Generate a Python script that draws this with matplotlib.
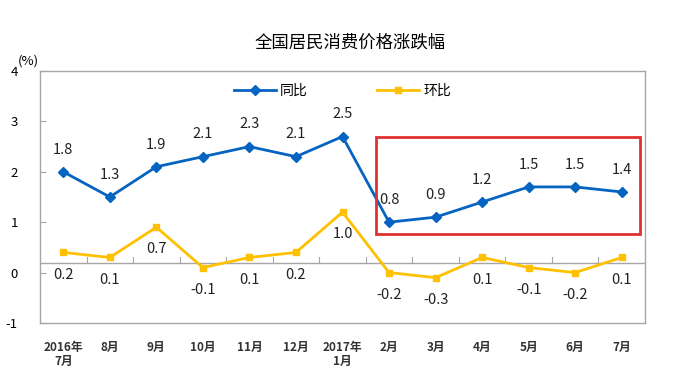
import matplotlib
matplotlib.use('Agg')
import matplotlib.pyplot as plt
from matplotlib.patches import Rectangle

plt.rcParams['font.family'] = ['Noto Sans CJK SC', 'DejaVu Sans']

# 数据
months = ['2016年\n7月', '8月', '9月', '10月', '11月', '12月', '2017年\n1月',
          '2月', '3月', '4月', '5月', '6月', '7月']
yoy = [1.8, 1.3, 1.9, 2.1, 2.3, 2.1, 2.5, 0.8, 0.9, 1.2, 1.5, 1.5, 1.4]
mom = [0.2, 0.1, 0.7, -0.1, 0.1, 0.2, 1.0, -0.2, -0.3, 0.1, -0.1, -0.2, 0.1]
# 原图纵轴刻度相对数据偏移了0.2
ytick_labels = ['-1', '0', '1', '2', '3', '4']
ytick_pos = [-1.2, -0.2, 0.8, 1.8, 2.8, 3.8]

blue = '#0563C1'
yellow = '#FFC000'
grey = '#A6A6A6'

fig = plt.figure(figsize=(6.75, 3.88), dpi=100)
ax = fig.add_axes([40/675, 1-323/388, 605/675, 252/388])

x = list(range(len(months)))
ax.plot(x, yoy, color=blue, lw=2, marker='D', ms=5, label='同比')
ax.plot(x, mom, color=yellow, lw=2, marker='s', ms=5, label='环比')

for i, v in enumerate(yoy):
    ax.annotate(f'{v:.1f}', (i, v), xytext=(0, 16), textcoords='offset points',
                ha='center', va='center', fontsize=10.5, color='#222222')
for i, v in enumerate(mom):
    ax.annotate(f'{v:.1f}', (i, v), xytext=(0, -16), textcoords='offset points',
                ha='center', va='center', fontsize=10.5, color='#222222')

ax.set_xlim(-0.5, len(months) - 0.5)
ax.set_ylim(-1.2, 3.8)

# 零线及分类刻度
ax.axhline(0, color=grey, lw=1, zorder=1)
for b in range(1, len(months)):
    ax.plot([b - 0.5, b - 0.5], [0, 0.1], color=grey, lw=0.8, zorder=1)

ax.set_yticks(ytick_pos)
ax.set_yticklabels(ytick_labels, fontsize=9.5)
ax.tick_params(axis='y', direction='in', length=4, color=grey, pad=16)
ax.set_xticks(x)
ax.set_xticklabels(months, fontsize=8.5, fontweight='bold', color='#333333', linespacing=1.05)
ax.tick_params(axis='x', length=0, pad=13)
for s in ax.spines.values():
    s.set_color(grey)
    s.set_linewidth(1)

# 红框
ax.add_patch(Rectangle((6.72, 0.56), 5.67, 1.94, fill=False, edgecolor='#E03030', lw=2, zorder=5))

fig.text(28/675, 1-61/388, '(%)', fontsize=9.5, ha='center', va='center')
fig.text(350/675, 1-43/388, '全国居民消费价格涨跌幅', fontsize=12.5, ha='center', va='center')
ax.legend(loc='upper center', bbox_to_anchor=(0.5, 1.0), ncol=2, frameon=False,
          fontsize=10, columnspacing=5, handlelength=3, handletextpad=0.3)

fig.savefig('out.png', dpi=100)
